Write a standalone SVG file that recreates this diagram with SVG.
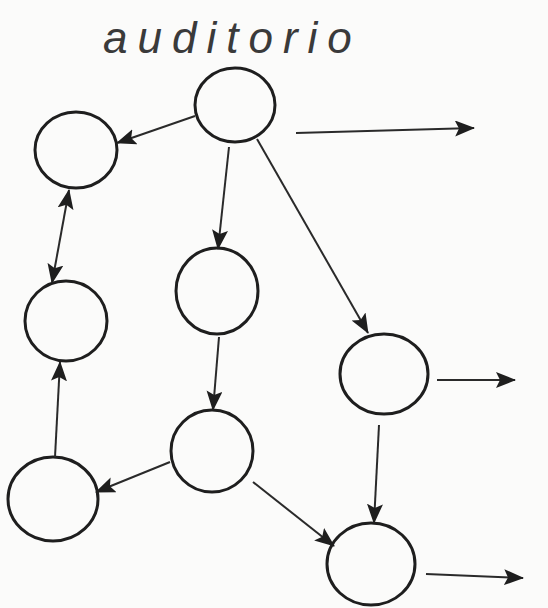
<svg xmlns="http://www.w3.org/2000/svg" width="548" height="608" viewBox="0 0 548 608">
<style>
.node{fill:none;stroke:#1e1e1e;stroke-width:3}
.edge{fill:none;stroke:#2a2a2a;stroke-width:2}
.lbl{font-family:"Liberation Sans",Arial,sans-serif;font-style:italic;font-size:44px;letter-spacing:10px;fill:#3a3a3a}
</style>
<defs>
<marker id="ah" markerUnits="userSpaceOnUse" markerWidth="22" markerHeight="18" refX="19" refY="8" orient="auto-start-reverse">
<path d="M0,0 L20,8 L0,16 L4,8 z" fill="#1e1e1e"/>
</marker>
</defs>
<rect width="548" height="608" fill="#fbfbfa"/>
<text class="lbl" x="103" y="53">auditorio</text>
<g id="n-top"><ellipse class="node" cx="235" cy="105" rx="40" ry="37"/></g>
<g id="n-a"><ellipse class="node" cx="76" cy="150" rx="41" ry="38"/></g>
<g id="n-b"><ellipse class="node" cx="66" cy="321" rx="41" ry="40"/></g>
<g id="n-c"><ellipse class="node" cx="217" cy="291" rx="41" ry="43"/></g>
<g id="n-d"><ellipse class="node" cx="384" cy="374" rx="44" ry="40"/></g>
<g id="n-e"><ellipse class="node" cx="212" cy="451" rx="41" ry="41"/></g>
<g id="n-f"><ellipse class="node" cx="53" cy="499" rx="45" ry="42"/></g>
<g id="n-g"><ellipse class="node" cx="371" cy="564" rx="44" ry="41"/></g>
<g id="connectors">
<line class="edge" x1="195" y1="116" x2="117" y2="143" marker-end="url(#ah)"/>
<line class="edge" x1="229" y1="147" x2="218" y2="249" marker-end="url(#ah)"/>
<line class="edge" x1="257" y1="139" x2="368" y2="333" marker-end="url(#ah)"/>
<line class="edge" x1="296" y1="133" x2="474" y2="128" marker-end="url(#ah)"/>
<line class="edge" x1="69" y1="190" x2="52" y2="283" marker-start="url(#ah)" marker-end="url(#ah)"/>
<line class="edge" x1="55" y1="457" x2="60" y2="362" marker-end="url(#ah)"/>
<line class="edge" x1="219" y1="337" x2="213" y2="410" marker-end="url(#ah)"/>
<line class="edge" x1="170" y1="462" x2="96" y2="492" marker-end="url(#ah)"/>
<line class="edge" x1="253" y1="482" x2="334" y2="546" marker-end="url(#ah)"/>
<line class="edge" x1="379" y1="425" x2="374" y2="523" marker-end="url(#ah)"/>
<line class="edge" x1="437" y1="380" x2="515" y2="380" marker-end="url(#ah)"/>
<line class="edge" x1="426" y1="574" x2="523" y2="578" marker-end="url(#ah)"/>
</g>
</svg>
